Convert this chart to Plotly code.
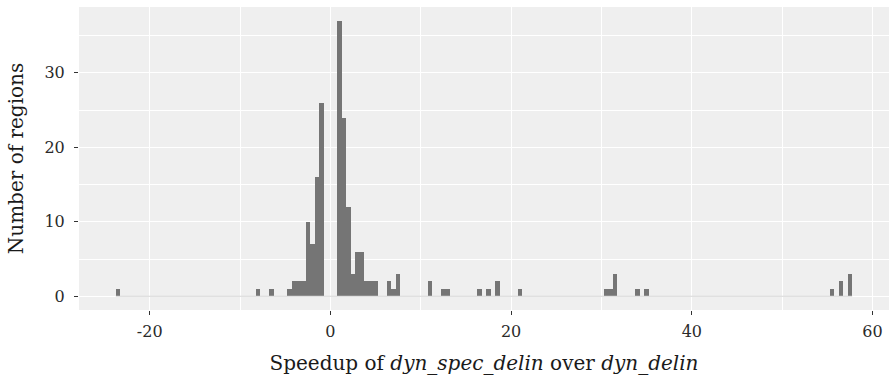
import plotly.graph_objects as go

# Histogram bins (binwidth 0.5, centers) and counts
bin_centers = [-23.5, -8.0, -6.5, -4.5, -4.0, -3.5, -3.0, -2.5, -2.0, -1.5, -1.0,
               1.0, 1.5, 2.0, 2.5, 3.0, 3.5, 4.0, 4.5, 5.0, 6.5, 7.0, 7.5,
               11.0, 12.5, 13.0, 16.5, 17.5, 18.5, 21.0,
               30.5, 31.0, 31.5, 34.0, 35.0, 55.5, 56.5, 57.5]
counts = [1, 1, 1, 1, 2, 2, 2, 10, 7, 16, 26,
          37, 24, 12, 3, 6, 6, 2, 2, 2, 2, 1, 3,
          2, 1, 1, 1, 1, 2, 1,
          1, 1, 3, 1, 1, 1, 2, 3]
binwidth = 0.5
x_tickvals = [-20, 0, 20, 40, 60]
x_ticktext = ["-20", "0", "20", "40", "60"]
y_tickvals = [0, 10, 20, 30]

lo = min(bin_centers) - binwidth / 2
hi = max(bin_centers) + binwidth / 2
xpad = (hi - lo) * 0.05
ymax = max(counts)
ypad = ymax * 0.05

fig = go.Figure()
# zero-height bins drawn as a faint baseline
fig.add_trace(go.Scatter(x=[lo, hi], y=[0, 0], mode="lines",
                         line=dict(color="#d6d6d6", width=1.2),
                         hoverinfo="skip", showlegend=False))
fig.add_trace(go.Bar(x=bin_centers, y=counts, width=binwidth,
                     marker=dict(color="#757575", line=dict(width=0)),
                     showlegend=False))

font_family = "DejaVu Serif, Liberation Serif, serif"
fig.update_layout(
    width=890, height=386,
    margin=dict(l=79, r=1, t=7, b=76),
    paper_bgcolor="white", plot_bgcolor="#efefef",
    bargap=0,
    font=dict(family=font_family, size=16, color="#222"),
    xaxis=dict(range=[lo - xpad, hi + xpad], tickvals=x_tickvals, ticktext=x_ticktext,
               automargin=False, ticklabelstandoff=3,
               showgrid=True, gridcolor="white", gridwidth=1.3, zeroline=False,
               ticks="outside", ticklen=4, tickcolor="#333", tickwidth=1,
               tickfont=dict(size=16, color="#2a2a2a"),
               minor=dict(tickvals=[-30, -10, 10, 30, 50], showgrid=True,
                          gridcolor="white", gridwidth=0.7, ticks=""),
               title=dict(text="Speedup of <i>dyn_spec_delin</i> over <i>dyn_delin</i>",
                          font=dict(size=20, color="#1a1a1a"))),
    yaxis=dict(range=[-ypad, ymax + ypad], tickvals=y_tickvals,
               automargin=False, ticklabelstandoff=6,
               showgrid=True, gridcolor="white", gridwidth=1.3, zeroline=False,
               ticks="outside", ticklen=4, tickcolor="#333", tickwidth=1,
               tickfont=dict(size=16, color="#2a2a2a"),
               minor=dict(tickvals=[5, 15, 25, 35], showgrid=True,
                          gridcolor="white", gridwidth=0.7, ticks=""),
               title=dict(text="Number of regions", font=dict(size=20, color="#1a1a1a"))),
)

fig.write_html("out.html", config={"displayModeBar": False},
               post_script="document.body.style.margin='0';")
